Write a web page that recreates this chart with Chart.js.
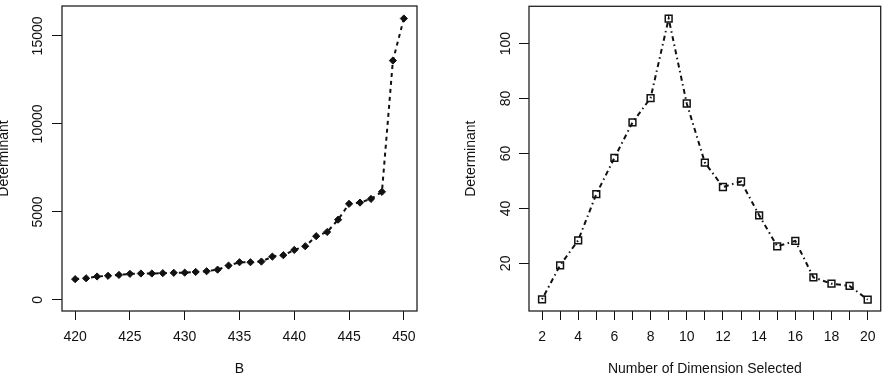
<!DOCTYPE html>
<html lang="en">
<head>
<meta charset="UTF-8">
<title>Determinant</title>
<script src="https://cdn.jsdelivr.net/npm/chart.js@4"></script>
<style>
  html, body { margin: 0; padding: 0; background: #fff; }
  .wrap { position: relative; width: 887px; height: 386px; overflow: hidden; }
  .panel { position: absolute; top: 0; }
  #left { left: 0; }
  #right { left: 444px; }
</style>
</head>
<body>
<div class="wrap">
  <div class="panel" id="left"><canvas id="chartB" width="444" height="386"></canvas></div>
  <div class="panel" id="right"><canvas id="chartDim" width="443" height="386"></canvas></div>
</div>
<script>
// left panel: determinant against B
const bValues = [420, 421, 422, 423, 424, 425, 426, 427, 428, 429, 430, 431, 432, 433, 434, 435,
                 436, 437, 438, 439, 440, 441, 442, 443, 444, 445, 446, 447, 448, 449, 450];
const bDeterminant = [1180, 1230, 1330, 1370, 1420, 1480, 1500, 1500, 1520, 1540, 1550, 1590, 1630, 1720, 1950, 2140,
                      2140, 2180, 2460, 2540, 2840, 3050, 3620, 3860, 4560, 5460, 5530, 5740, 6140, 13600, 15990];
const bTicks = [420, 425, 430, 435, 440, 445, 450];
const bYTicks = [0, 5000, 10000, 15000];

// right panel: determinant against number of dimensions
const dimValues = [2, 3, 4, 5, 6, 7, 8, 9, 10, 11, 12, 13, 14, 15, 16, 17, 18, 19, 20];
const dimDeterminant = [6.9, 19.3, 28.4, 45.2, 58.4, 71.3, 80.2, 109.1, 78.2, 56.7, 47.8, 49.8, 37.5, 26.2, 28.2, 14.9, 12.6, 11.8, 6.8];
const dimTickMarks = [2, 3, 4, 5, 6, 7, 8, 9, 10, 11, 12, 13, 14, 15, 16, 17, 18, 19, 20];
const dimTickLabels = [2, 4, 6, 8, 10, 12, 14, 16, 18, 20];
const dimYTicks = [20, 40, 60, 80, 100];

const FONT = '"Liberation Sans", Arial, Helvetica, sans-serif';
const INK = '#111';

// R style box, rotated y tick labels and y title
const rAxes = {
  id: 'rAxes',
  afterDraw(chart, args, opts) {
    const { ctx, chartArea: a } = chart;
    const ys = chart.scales.y;
    ctx.save();
    ctx.strokeStyle = '#222';
    ctx.lineWidth = 1.3;
    ctx.strokeRect(a.left, a.top, a.right - a.left, a.bottom - a.top);
    ctx.fillStyle = INK;
    ctx.font = '14px ' + FONT;
    ctx.textAlign = 'center';
    ctx.textBaseline = 'middle';
    ys.ticks.forEach(t => {
      ctx.save();
      ctx.translate(a.left - opts.labelGap, ys.getPixelForValue(t.value));
      ctx.rotate(-Math.PI / 2);
      ctx.fillText(String(t.value), 0, 0);
      ctx.restore();
    });
    ctx.save();
    ctx.translate(a.left - opts.titleGap, (a.top + a.bottom) / 2);
    ctx.rotate(-Math.PI / 2);
    ctx.fillText(opts.title, 0, 0);
    ctx.restore();
    ctx.restore();
  }
};

function xAxis(min, max, ticks, label, title) {
  return {
    type: 'linear', min: min, max: max,
    afterBuildTicks: s => { s.ticks = ticks.map(v => ({ value: v })); },
    afterFit: s => { s.height = 75; },
    border: { display: false },
    grid: { drawOnChartArea: false, drawTicks: true, tickLength: 9, color: INK, lineWidth: 1 },
    ticks: { autoSkip: false, maxRotation: 0, padding: 9, color: INK, font: { family: FONT, size: 14 }, callback: label },
    title: { display: true, text: title, color: INK, font: { family: FONT, size: 14 }, padding: { top: 0, bottom: 8 } }
  };
}

function yAxis(min, max, ticks, width) {
  return {
    type: 'linear', min: min, max: max,
    afterBuildTicks: s => { s.ticks = ticks.map(v => ({ value: v })); },
    afterFit: s => { s.width = width; },
    border: { display: false },
    grid: { drawOnChartArea: false, drawTicks: true, tickLength: 10, color: INK, lineWidth: 1 },
    ticks: { display: false }
  };
}

const common = {
  responsive: false,
  animation: false,
  events: [],
  plugins: { legend: { display: false }, tooltip: { enabled: false } }
};

new Chart(document.getElementById('chartB'), {
  type: 'line',
  data: {
    datasets: [{
      data: bValues.map((x, i) => ({ x: x, y: bDeterminant[i] })),
      borderColor: INK,
      borderWidth: 2,
      borderDash: [4, 4],
      tension: 0,
      pointStyle: 'rectRot',
      pointRadius: 3.6,
      pointBackgroundColor: INK,
      pointBorderColor: INK,
      pointBorderWidth: 1
    }]
  },
  options: Object.assign({}, common, {
    layout: { padding: { top: 6, right: 27, left: 0, bottom: 0 } },
    scales: {
      x: xAxis(418.8, 451.2, bTicks, v => String(v), 'B'),
      y: yAxis(-630, 16700, bYTicks, 62)
    },
    plugins: Object.assign({}, common.plugins, {
      rAxes: { labelGap: 24, titleGap: 58, title: 'Determinant' }
    })
  }),
  plugins: [rAxes]
});

new Chart(document.getElementById('chartDim'), {
  type: 'line',
  data: {
    datasets: [{
      data: dimValues.map((x, i) => ({ x: x, y: dimDeterminant[i] })),
      borderColor: INK,
      borderWidth: 2,
      borderDash: [1.5, 3.5, 5, 3.5],
      tension: 0,
      pointStyle: 'rect',
      pointRadius: 4.8,
      pointBackgroundColor: 'rgba(0,0,0,0)',
      pointBorderColor: INK,
      pointBorderWidth: 1.5
    }]
  },
  options: Object.assign({}, common, {
    layout: { padding: { top: 6, right: 4, left: 0, bottom: 0 } },
    scales: {
      x: xAxis(1.28, 20.72, dimTickMarks, v => dimTickLabels.includes(v) ? String(v) : '', 'Number of Dimension Selected'),
      y: yAxis(2.65, 113.6, dimYTicks, 85)
    },
    plugins: Object.assign({}, common.plugins, {
      rAxes: { labelGap: 23, titleGap: 58, title: 'Determinant' }
    })
  }),
  plugins: [rAxes]
});
</script>
</body>
</html>
